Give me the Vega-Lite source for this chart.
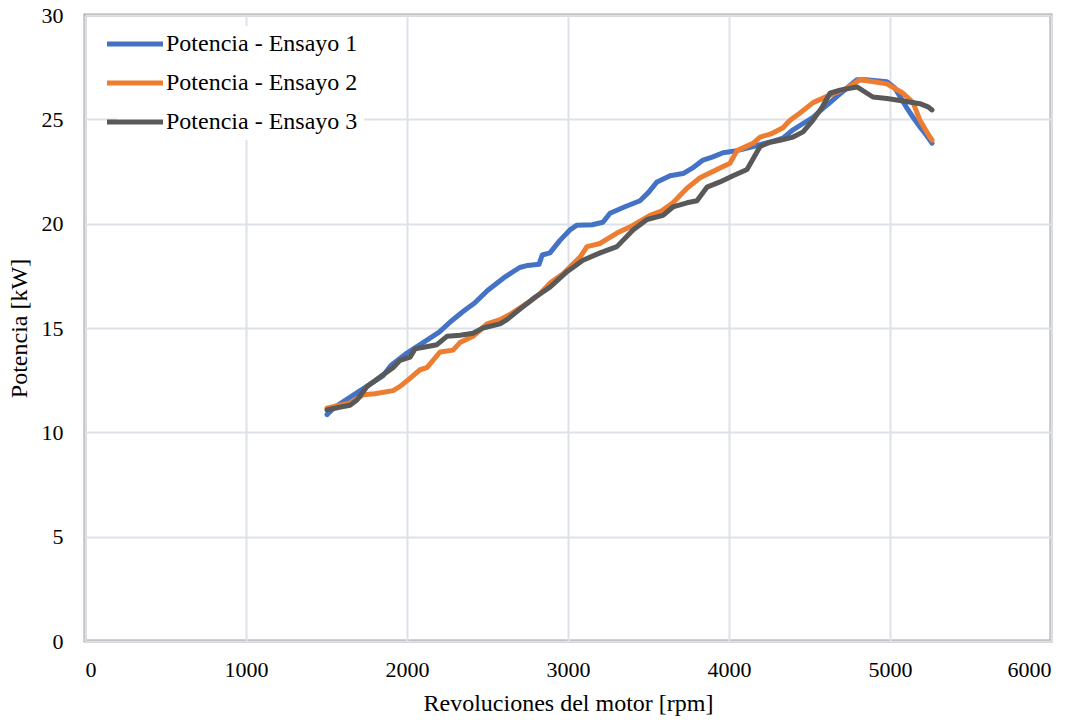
{
  "$schema": "https://vega.github.io/schema/vega-lite/v6.json",
  "width": 966,
  "height": 626,
  "autosize": "none",
  "padding": {"left": 85, "top": 15, "right": 35, "bottom": 79},
  "background": "white",
  "config": {
    "font": "Liberation Serif, Times New Roman, serif",
    "view": {"stroke": "#A6A6A6", "strokeWidth": 3},
    "axis": {
      "grid": true, "gridColor": "#DDE1E8", "gridWidth": 2,
      "domain": false, "ticks": false,
      "labelFont": "Liberation Serif, Times New Roman, serif", "labelFontSize": 22, "labelColor": "#000000",
      "titleFont": "Liberation Serif, Times New Roman, serif", "titleFontSize": 24, "titleFontWeight": "normal", "titleColor": "#000000"
    },
    "legend": {"labelFont": "Liberation Serif, Times New Roman, serif"}
  },
  "data": {"values": [
    {"rpm":1503,"kw":10.85,"serie":"Potencia - Ensayo 1"},
    {"rpm":1550,"kw":11.2,"serie":"Potencia - Ensayo 1"},
    {"rpm":1650,"kw":11.7,"serie":"Potencia - Ensayo 1"},
    {"rpm":1750,"kw":12.2,"serie":"Potencia - Ensayo 1"},
    {"rpm":1850,"kw":12.7,"serie":"Potencia - Ensayo 1"},
    {"rpm":1900,"kw":13.2,"serie":"Potencia - Ensayo 1"},
    {"rpm":2000,"kw":13.8,"serie":"Potencia - Ensayo 1"},
    {"rpm":2100,"kw":14.3,"serie":"Potencia - Ensayo 1"},
    {"rpm":2200,"kw":14.8,"serie":"Potencia - Ensayo 1"},
    {"rpm":2270,"kw":15.3,"serie":"Potencia - Ensayo 1"},
    {"rpm":2350,"kw":15.8,"serie":"Potencia - Ensayo 1"},
    {"rpm":2420,"kw":16.2,"serie":"Potencia - Ensayo 1"},
    {"rpm":2500,"kw":16.8,"serie":"Potencia - Ensayo 1"},
    {"rpm":2600,"kw":17.4,"serie":"Potencia - Ensayo 1"},
    {"rpm":2700,"kw":17.9,"serie":"Potencia - Ensayo 1"},
    {"rpm":2750,"kw":18.0,"serie":"Potencia - Ensayo 1"},
    {"rpm":2820,"kw":18.05,"serie":"Potencia - Ensayo 1"},
    {"rpm":2840,"kw":18.5,"serie":"Potencia - Ensayo 1"},
    {"rpm":2888,"kw":18.6,"serie":"Potencia - Ensayo 1"},
    {"rpm":2950,"kw":19.2,"serie":"Potencia - Ensayo 1"},
    {"rpm":3012,"kw":19.7,"serie":"Potencia - Ensayo 1"},
    {"rpm":3056,"kw":19.93,"serie":"Potencia - Ensayo 1"},
    {"rpm":3150,"kw":19.95,"serie":"Potencia - Ensayo 1"},
    {"rpm":3217,"kw":20.07,"serie":"Potencia - Ensayo 1"},
    {"rpm":3261,"kw":20.5,"serie":"Potencia - Ensayo 1"},
    {"rpm":3350,"kw":20.8,"serie":"Potencia - Ensayo 1"},
    {"rpm":3447,"kw":21.1,"serie":"Potencia - Ensayo 1"},
    {"rpm":3500,"kw":21.5,"serie":"Potencia - Ensayo 1"},
    {"rpm":3553,"kw":22.0,"serie":"Potencia - Ensayo 1"},
    {"rpm":3634,"kw":22.3,"serie":"Potencia - Ensayo 1"},
    {"rpm":3714,"kw":22.4,"serie":"Potencia - Ensayo 1"},
    {"rpm":3780,"kw":22.7,"serie":"Potencia - Ensayo 1"},
    {"rpm":3839,"kw":23.05,"serie":"Potencia - Ensayo 1"},
    {"rpm":3900,"kw":23.2,"serie":"Potencia - Ensayo 1"},
    {"rpm":3963,"kw":23.4,"serie":"Potencia - Ensayo 1"},
    {"rpm":4050,"kw":23.5,"serie":"Potencia - Ensayo 1"},
    {"rpm":4150,"kw":23.7,"serie":"Potencia - Ensayo 1"},
    {"rpm":4250,"kw":23.9,"serie":"Potencia - Ensayo 1"},
    {"rpm":4335,"kw":24.1,"serie":"Potencia - Ensayo 1"},
    {"rpm":4398,"kw":24.5,"serie":"Potencia - Ensayo 1"},
    {"rpm":4460,"kw":24.8,"serie":"Potencia - Ensayo 1"},
    {"rpm":4522,"kw":25.1,"serie":"Potencia - Ensayo 1"},
    {"rpm":4580,"kw":25.5,"serie":"Potencia - Ensayo 1"},
    {"rpm":4627,"kw":25.8,"serie":"Potencia - Ensayo 1"},
    {"rpm":4671,"kw":26.1,"serie":"Potencia - Ensayo 1"},
    {"rpm":4733,"kw":26.5,"serie":"Potencia - Ensayo 1"},
    {"rpm":4795,"kw":26.9,"serie":"Potencia - Ensayo 1"},
    {"rpm":4850,"kw":26.9,"serie":"Potencia - Ensayo 1"},
    {"rpm":4981,"kw":26.8,"serie":"Potencia - Ensayo 1"},
    {"rpm":5030,"kw":26.5,"serie":"Potencia - Ensayo 1"},
    {"rpm":5062,"kw":26.1,"serie":"Potencia - Ensayo 1"},
    {"rpm":5100,"kw":25.6,"serie":"Potencia - Ensayo 1"},
    {"rpm":5143,"kw":25.1,"serie":"Potencia - Ensayo 1"},
    {"rpm":5190,"kw":24.6,"serie":"Potencia - Ensayo 1"},
    {"rpm":5230,"kw":24.2,"serie":"Potencia - Ensayo 1"},
    {"rpm":5261,"kw":23.86,"serie":"Potencia - Ensayo 1"},

    {"rpm":1503,"kw":11.16,"serie":"Potencia - Ensayo 2"},
    {"rpm":1580,"kw":11.3,"serie":"Potencia - Ensayo 2"},
    {"rpm":1646,"kw":11.4,"serie":"Potencia - Ensayo 2"},
    {"rpm":1727,"kw":11.8,"serie":"Potencia - Ensayo 2"},
    {"rpm":1800,"kw":11.85,"serie":"Potencia - Ensayo 2"},
    {"rpm":1913,"kw":12.0,"serie":"Potencia - Ensayo 2"},
    {"rpm":1957,"kw":12.2,"serie":"Potencia - Ensayo 2"},
    {"rpm":2020,"kw":12.6,"serie":"Potencia - Ensayo 2"},
    {"rpm":2081,"kw":13.0,"serie":"Potencia - Ensayo 2"},
    {"rpm":2124,"kw":13.1,"serie":"Potencia - Ensayo 2"},
    {"rpm":2205,"kw":13.85,"serie":"Potencia - Ensayo 2"},
    {"rpm":2286,"kw":13.94,"serie":"Potencia - Ensayo 2"},
    {"rpm":2329,"kw":14.3,"serie":"Potencia - Ensayo 2"},
    {"rpm":2410,"kw":14.6,"serie":"Potencia - Ensayo 2"},
    {"rpm":2497,"kw":15.2,"serie":"Potencia - Ensayo 2"},
    {"rpm":2578,"kw":15.4,"serie":"Potencia - Ensayo 2"},
    {"rpm":2650,"kw":15.7,"serie":"Potencia - Ensayo 2"},
    {"rpm":2750,"kw":16.2,"serie":"Potencia - Ensayo 2"},
    {"rpm":2820,"kw":16.6,"serie":"Potencia - Ensayo 2"},
    {"rpm":2888,"kw":17.15,"serie":"Potencia - Ensayo 2"},
    {"rpm":2969,"kw":17.6,"serie":"Potencia - Ensayo 2"},
    {"rpm":3075,"kw":18.4,"serie":"Potencia - Ensayo 2"},
    {"rpm":3118,"kw":18.9,"serie":"Potencia - Ensayo 2"},
    {"rpm":3199,"kw":19.05,"serie":"Potencia - Ensayo 2"},
    {"rpm":3304,"kw":19.55,"serie":"Potencia - Ensayo 2"},
    {"rpm":3400,"kw":19.9,"serie":"Potencia - Ensayo 2"},
    {"rpm":3509,"kw":20.4,"serie":"Potencia - Ensayo 2"},
    {"rpm":3580,"kw":20.6,"serie":"Potencia - Ensayo 2"},
    {"rpm":3652,"kw":21.0,"serie":"Potencia - Ensayo 2"},
    {"rpm":3739,"kw":21.7,"serie":"Potencia - Ensayo 2"},
    {"rpm":3820,"kw":22.2,"serie":"Potencia - Ensayo 2"},
    {"rpm":3925,"kw":22.6,"serie":"Potencia - Ensayo 2"},
    {"rpm":4006,"kw":22.9,"serie":"Potencia - Ensayo 2"},
    {"rpm":4050,"kw":23.5,"serie":"Potencia - Ensayo 2"},
    {"rpm":4149,"kw":23.85,"serie":"Potencia - Ensayo 2"},
    {"rpm":4193,"kw":24.15,"serie":"Potencia - Ensayo 2"},
    {"rpm":4260,"kw":24.3,"serie":"Potencia - Ensayo 2"},
    {"rpm":4335,"kw":24.6,"serie":"Potencia - Ensayo 2"},
    {"rpm":4379,"kw":24.96,"serie":"Potencia - Ensayo 2"},
    {"rpm":4441,"kw":25.3,"serie":"Potencia - Ensayo 2"},
    {"rpm":4522,"kw":25.8,"serie":"Potencia - Ensayo 2"},
    {"rpm":4609,"kw":26.1,"serie":"Potencia - Ensayo 2"},
    {"rpm":4733,"kw":26.5,"serie":"Potencia - Ensayo 2"},
    {"rpm":4814,"kw":26.9,"serie":"Potencia - Ensayo 2"},
    {"rpm":4900,"kw":26.8,"serie":"Potencia - Ensayo 2"},
    {"rpm":4981,"kw":26.7,"serie":"Potencia - Ensayo 2"},
    {"rpm":5081,"kw":26.25,"serie":"Potencia - Ensayo 2"},
    {"rpm":5143,"kw":25.8,"serie":"Potencia - Ensayo 2"},
    {"rpm":5186,"kw":24.96,"serie":"Potencia - Ensayo 2"},
    {"rpm":5236,"kw":24.3,"serie":"Potencia - Ensayo 2"},
    {"rpm":5261,"kw":24.0,"serie":"Potencia - Ensayo 2"},

    {"rpm":1503,"kw":11.07,"serie":"Potencia - Ensayo 3"},
    {"rpm":1580,"kw":11.2,"serie":"Potencia - Ensayo 3"},
    {"rpm":1646,"kw":11.3,"serie":"Potencia - Ensayo 3"},
    {"rpm":1689,"kw":11.55,"serie":"Potencia - Ensayo 3"},
    {"rpm":1752,"kw":12.2,"serie":"Potencia - Ensayo 3"},
    {"rpm":1832,"kw":12.65,"serie":"Potencia - Ensayo 3"},
    {"rpm":1913,"kw":13.1,"serie":"Potencia - Ensayo 3"},
    {"rpm":1957,"kw":13.45,"serie":"Potencia - Ensayo 3"},
    {"rpm":2019,"kw":13.6,"serie":"Potencia - Ensayo 3"},
    {"rpm":2050,"kw":14.0,"serie":"Potencia - Ensayo 3"},
    {"rpm":2120,"kw":14.1,"serie":"Potencia - Ensayo 3"},
    {"rpm":2186,"kw":14.2,"serie":"Potencia - Ensayo 3"},
    {"rpm":2248,"kw":14.6,"serie":"Potencia - Ensayo 3"},
    {"rpm":2330,"kw":14.65,"serie":"Potencia - Ensayo 3"},
    {"rpm":2410,"kw":14.75,"serie":"Potencia - Ensayo 3"},
    {"rpm":2472,"kw":15.0,"serie":"Potencia - Ensayo 3"},
    {"rpm":2578,"kw":15.2,"serie":"Potencia - Ensayo 3"},
    {"rpm":2621,"kw":15.4,"serie":"Potencia - Ensayo 3"},
    {"rpm":2700,"kw":15.9,"serie":"Potencia - Ensayo 3"},
    {"rpm":2800,"kw":16.5,"serie":"Potencia - Ensayo 3"},
    {"rpm":2888,"kw":16.96,"serie":"Potencia - Ensayo 3"},
    {"rpm":2994,"kw":17.7,"serie":"Potencia - Ensayo 3"},
    {"rpm":3093,"kw":18.25,"serie":"Potencia - Ensayo 3"},
    {"rpm":3199,"kw":18.6,"serie":"Potencia - Ensayo 3"},
    {"rpm":3304,"kw":18.9,"serie":"Potencia - Ensayo 3"},
    {"rpm":3404,"kw":19.7,"serie":"Potencia - Ensayo 3"},
    {"rpm":3491,"kw":20.2,"serie":"Potencia - Ensayo 3"},
    {"rpm":3590,"kw":20.4,"serie":"Potencia - Ensayo 3"},
    {"rpm":3652,"kw":20.8,"serie":"Potencia - Ensayo 3"},
    {"rpm":3739,"kw":21.0,"serie":"Potencia - Ensayo 3"},
    {"rpm":3801,"kw":21.1,"serie":"Potencia - Ensayo 3"},
    {"rpm":3863,"kw":21.75,"serie":"Potencia - Ensayo 3"},
    {"rpm":3944,"kw":22.0,"serie":"Potencia - Ensayo 3"},
    {"rpm":4025,"kw":22.3,"serie":"Potencia - Ensayo 3"},
    {"rpm":4112,"kw":22.6,"serie":"Potencia - Ensayo 3"},
    {"rpm":4193,"kw":23.7,"serie":"Potencia - Ensayo 3"},
    {"rpm":4255,"kw":23.9,"serie":"Potencia - Ensayo 3"},
    {"rpm":4317,"kw":24.0,"serie":"Potencia - Ensayo 3"},
    {"rpm":4398,"kw":24.15,"serie":"Potencia - Ensayo 3"},
    {"rpm":4460,"kw":24.4,"serie":"Potencia - Ensayo 3"},
    {"rpm":4522,"kw":24.96,"serie":"Potencia - Ensayo 3"},
    {"rpm":4580,"kw":25.6,"serie":"Potencia - Ensayo 3"},
    {"rpm":4627,"kw":26.25,"serie":"Potencia - Ensayo 3"},
    {"rpm":4689,"kw":26.4,"serie":"Potencia - Ensayo 3"},
    {"rpm":4795,"kw":26.55,"serie":"Potencia - Ensayo 3"},
    {"rpm":4857,"kw":26.25,"serie":"Potencia - Ensayo 3"},
    {"rpm":4894,"kw":26.07,"serie":"Potencia - Ensayo 3"},
    {"rpm":4981,"kw":26.0,"serie":"Potencia - Ensayo 3"},
    {"rpm":5062,"kw":25.9,"serie":"Potencia - Ensayo 3"},
    {"rpm":5186,"kw":25.75,"serie":"Potencia - Ensayo 3"},
    {"rpm":5236,"kw":25.6,"serie":"Potencia - Ensayo 3"},
    {"rpm":5261,"kw":25.45,"serie":"Potencia - Ensayo 3"}
  ]},
  "mark": {"type": "line", "strokeWidth": 5, "strokeCap": "round", "strokeJoin": "round"},
  "encoding": {
    "x": {"field": "rpm", "type": "quantitative", "title": "Revoluciones del motor [rpm]",
          "scale": {"domain": [0, 6000], "nice": false},
          "axis": {"values": [0,1000,2000,3000,4000,5000,6000], "format": "d", "labelPadding": 18, "titlePadding": 11}},
    "y": {"field": "kw", "type": "quantitative", "title": "Potencia [kW]",
          "scale": {"domain": [0, 30], "nice": false},
          "axis": {"values": [0,5,10,15,20,25,30], "labelPadding": 22, "titlePadding": 10}},
    "color": {"field": "serie", "type": "nominal", "title": null,
              "scale": {"domain": ["Potencia - Ensayo 1","Potencia - Ensayo 2","Potencia - Ensayo 3"],
                        "range": ["#4472C4","#ED7D31","#595959"]},
              "legend": {"orient": "none", "legendX": 32, "legendY": 11,
                         "symbolType": "M-3.5,0H3.5", "symbolSize": 256, "symbolStrokeWidth": 5,
                         "labelFontSize": 24, "labelColor": "#000000",
                         "labelOffset": 19, "rowPadding": 15, "labelLimit": 400,
                         "fillColor": "white", "padding": 6}}
  }
}
